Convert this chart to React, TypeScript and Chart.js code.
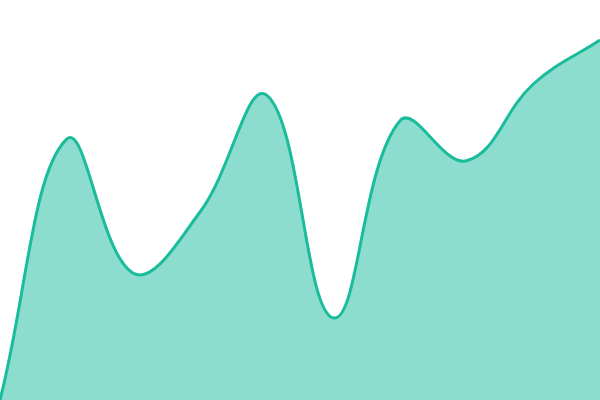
import Chart from 'chart.js/auto';
import { useEffect, useRef } from 'react';

const labels = ['1', '2', '3', '4', '5', '6', '7', '8', '9', '10'];
const values = [0, 65.2, 31.7, 47, 76.2, 20.5, 69.8, 59.8, 79, 90];

export default function App() {
  const chartRef = useRef<HTMLCanvasElement | null>(null);

  useEffect(() => {
    document.body.style.margin = '0';
    if (!chartRef.current) return;
    const chart = new Chart(chartRef.current, {
      type: 'line',
      data: {
        labels,
        datasets: [
          {
            data: values,
            borderColor: '#1abc9c',
            backgroundColor: 'rgba(26, 188, 156, 0.5)',
            borderWidth: 3,
            fill: 'origin',
            tension: 0.4,
            pointRadius: 0,
          },
        ],
      },
      options: {
        animation: false,
        responsive: false,
        layout: { padding: 0 },
        plugins: { legend: { display: false }, tooltip: { enabled: false } },
        scales: {
          x: { display: false },
          y: { display: false, min: 0, max: 100 },
        },
      },
    });

    return () => chart.destroy();
  }, []);

  return <canvas ref={chartRef} width={600} height={400}></canvas>;
}
